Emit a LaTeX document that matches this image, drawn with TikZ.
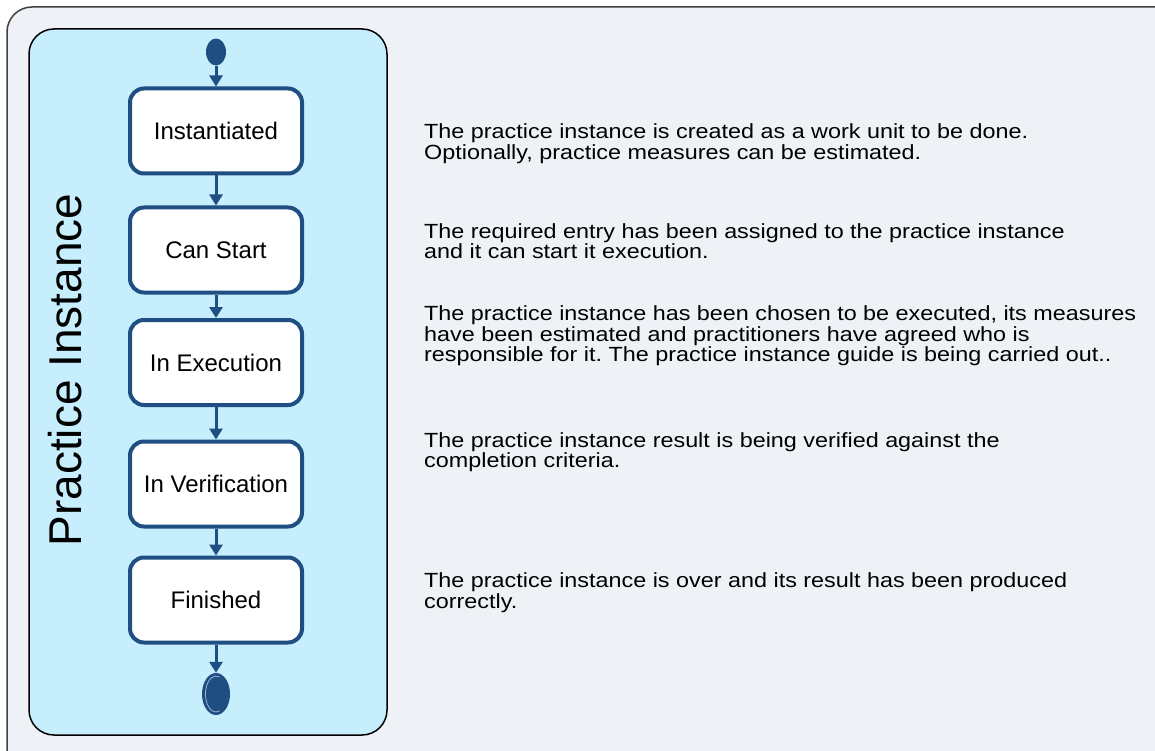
\documentclass[tikz,border=0pt]{standalone}
\usepackage{fontspec}
\setmainfont{Liberation Sans}
\newfontfamily\descfont[FakeStretch=1.14]{Liberation Sans}
\usetikzlibrary{positioning,arrows.meta,shapes.geometric}
\definecolor{stateblue}{HTML}{1F4E82}
\definecolor{panelcyan}{HTML}{C6EEFD}
\definecolor{framegray}{HTML}{EEF2F6}
\definecolor{ringblue}{HTML}{9DB5D6}
\frenchspacing
\tikzset{
    every node/.style={font=\fontsize{24}{28}\selectfont},
    stagebox/.style={rectangle,rounded corners=14pt,draw=stateblue,line width=4pt,fill=white,minimum width=172pt,minimum height=85pt,inner sep=2pt},
    startdot/.style={ellipse,fill=stateblue,minimum width=20pt,minimum height=27pt,inner sep=0pt},
    enddot/.style={ellipse,fill=stateblue,minimum width=28pt,minimum height=42pt,inner sep=0pt},
    desc/.style={anchor=base west,align=left,inner sep=0pt,font=\descfont\fontsize{20.5}{20.5}\selectfont},
    every edge/.style={draw=stateblue,line width=3pt,-{Triangle[length=11pt,width=13pt]}}
}
\begin{document}
\begin{tikzpicture}[x=1pt,y=-1pt]
    \useasboundingbox (0,0) rectangle (1155,751);
    \clip (0,0) rectangle (1155,751);
    % frame and swimlane
    \draw[draw=black!75,line width=1.5pt,fill=framegray,rounded corners=25pt] (7,7) rectangle (1190,790);
    \draw[line width=1.5pt,fill=panelcyan,rounded corners=25pt] (29,29) rectangle (387,735);
    \node[rotate=90,font=\fontsize{46}{50}\selectfont] (lane) at (65.5,370) {Practice Instance};
    % states
    \node[startdot] (init) at (216,52) {};
    \node[stagebox] (inst) at (216,131) {Instantiated};
    \node[stagebox] (start) at (216,250) {Can Start};
    \node[stagebox] (exec) at (216,362.5) {In Execution};
    \node[stagebox] (verif) at (216,484) {In Verification};
    \node[stagebox] (fin) at (216,600) {Finished};
    \node[enddot] (final) at (216,694) {};
    \draw[ringblue,line width=0.8pt] (final.center) ++(3.6pt,16.9pt) arc[start angle=70,end angle=290,x radius=10.5pt,y radius=18pt];
    \path
    (init) edge (inst)
    (inst) edge (start)
    (start) edge (exec)
    (exec) edge (verif)
    (verif) edge (fin)
    (fin) edge (final);
    % descriptions (anchored at the baseline of the last line)
    \node[desc] (d1) at (424,159.5) {The practice instance is created as a work unit to be done.\\Optionally, practice measures can be estimated.};
    \node[desc] (d2) at (424,258.5) {The required entry has been assigned to the practice instance\\and it can start it execution.};
    \node[desc] (d3) at (424,361.5) {The practice instance has been chosen to be executed, its measures\\have been estimated and practitioners have agreed who is\\responsible for it. The practice instance guide is being carried out..};
    \node[desc] (d4) at (424,467.5) {The practice instance result is being verified against the\\completion criteria.};
    \node[desc] (d5) at (424,608) {The practice instance is over and its result has been produced\\correctly.};
\end{tikzpicture}
\end{document}
